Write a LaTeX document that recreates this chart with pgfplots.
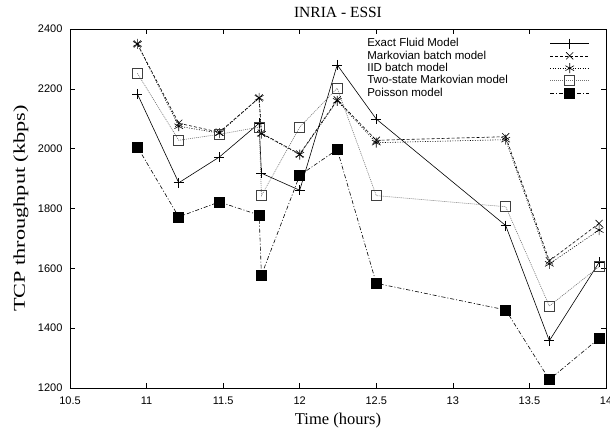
\documentclass[border=0pt]{standalone}
\usepackage{fontspec}
\setmainfont{Liberation Serif}
\newfontfamily\sans{Liberation Sans}
\usepackage{graphicx}
\usepackage{pgfplots}
\usepackage{pgfplotstable}
\pgfplotsset{compat=1.18}
\pgfplotstableread{
t      exact  markov iid   twostate poisson
10.94  2183   2350   2350  2252     2006
11.21  1886   2085   2075  2028     1772
11.475 1972   2055   2052  2048     1822
11.735 2085   2170   2170  2072     1778
11.75  1918   2052   2050  1843     1577
12.0   1861   1982   1980  2072     1911
12.245 2280   2163   2160  2202     1997
12.5   2099   2028   2020  1843     1550
13.345 1743   2040   2030  1806     1461
13.63  1358   1625   1615  1474     1228
13.955 1620   1750   1728  1606     1366
}\data
\begin{document}
\begin{tikzpicture}
\useasboundingbox (-70pt,-44pt) rectangle (540pt,388pt);
\begin{axis}[
  at={(0,0)}, anchor=south west, scale only axis,
  width=536pt, height=359pt,
  xmin=10.5, xmax=14, ymin=1200, ymax=2400,
  xtick={10.5,11,11.5,12,12.5,13,13.5,14},
  ytick={1200,1400,1600,1800,2000,2200,2400},
  tick align=inside, major tick length=5pt,
  axis line style={line width=0.8pt},
  tick style={line width=0.6pt, black},
  tick label style={font=\sans\fontsize{11}{12}\selectfont},
  /pgf/number format/assume math mode=true,
  /pgf/number format/1000 sep={},
  xticklabel style={yshift=-5pt},
  yticklabel style={xshift=-4pt},
  title={INRIA - ESSI},
  title style={at={(axis description cs:0.5,1.014)}, anchor=base, font=\fontsize{15.5}{18}\selectfont},
  xlabel={Time (hours)},
  xlabel style={at={(axis description cs:0.5,-0.1003)}, anchor=base, font=\fontsize{16.5}{19}\selectfont},
  ylabel={\scalebox{1.35}[1]{TCP throughput (kbps)}},
  ylabel style={at={(axis description cs:-0.084,0.5)}, anchor=base, font=\fontsize{16.5}{19}\selectfont},
  legend plot pos=right,
  legend cell align=left,
  legend image code/.code={\draw[mark repeat=2,mark phase=2,#1] plot coordinates {(0pt,0pt)(19.5pt,0pt)(39pt,0pt)};},
  legend style={draw=none, fill=none, at={(axis description cs:0.545,0.985)}, anchor=north west,
    font=\sans\fontsize{11.5}{13}\selectfont, row sep=-1.5pt,
    /tikz/column 1/.style={column sep=40pt}},
  every axis plot/.append style={line width=0.6pt},
]
\addplot[black, solid, mark=+, mark size=5pt] table[x=t,y=exact] {\data};
\addlegendentry{Exact Fluid Model}
\addplot[black, dash pattern=on 3pt off 2pt, mark=x, mark size=5pt, mark options={solid}] table[x=t,y=markov] {\data};
\addlegendentry{Markovian batch model}
\addplot[black, dash pattern=on 1pt off 1.5pt, mark=asterisk, mark size=5pt, mark options={solid}] table[x=t,y=iid] {\data};
\addlegendentry{IID batch model}
\addplot[black!55, dash pattern=on 1pt off 1pt, mark=square, mark size=5pt, mark options={solid, black!75}] table[x=t,y=twostate] {\data};
\addlegendentry{Two-state Markovian model}
\addplot[black, dash pattern=on 4pt off 2pt on 1pt off 2pt, mark=square*, mark size=5pt, mark options={solid}] table[x=t,y=poisson] {\data};
\addlegendentry{Poisson model}
\end{axis}
\end{tikzpicture}
\end{document}
